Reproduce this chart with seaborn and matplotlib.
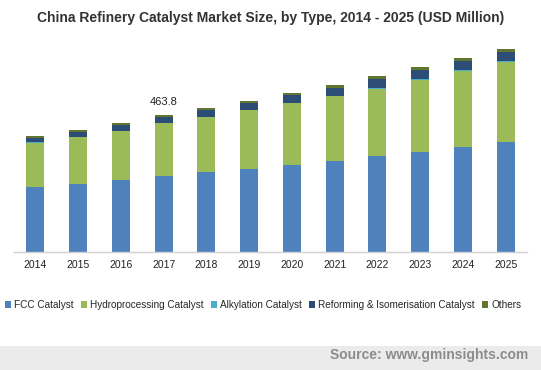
import numpy as np
import pandas as pd
import matplotlib.pyplot as plt
import seaborn as sns
from matplotlib.patches import Patch, Rectangle

# Data (USD Million)
years = ["2014", "2015", "2016", "2017", "2018", "2019",
         "2020", "2021", "2022", "2023", "2024", "2025"]
fcc = [220, 231, 243, 256.7, 270, 281, 294, 309, 325, 339, 355, 373]
hydro = [151, 159, 167, 180.8, 188, 201, 211, 219, 229, 244, 258, 270]
alkylation = [0.6, 0.6, 0.6, 0.6, 0.8, 0.8, 1, 2, 2.5, 3, 3, 4]
reforming = [16, 18, 19, 19.2, 22, 22, 25, 26, 29.5, 31.5, 32, 31]
others = [6, 6.5, 6.5, 6.5, 6.8, 7, 7.8, 9, 10, 9, 9, 10]

segments = ["FCC Catalyst", "Hydroprocessing Catalyst", "Alkylation Catalyst",
            "Reforming & Isomerisation Catalyst", "Others"]
colors = ["#4F81BD", "#9BBB59", "#4BACC6", "#2C4D75", "#5F7530"]

df = pd.DataFrame({"Year": years, segments[0]: fcc, segments[1]: hydro,
                   segments[2]: alkylation, segments[3]: reforming,
                   segments[4]: others})

sns.set_style("white")
plt.rcParams["font.family"] = ["Liberation Sans", "DejaVu Sans"]

fig = plt.figure(figsize=(5.41, 3.70), dpi=100)
ax = fig.add_axes([14 / 541, 1 - 252 / 370, 513 / 541, 212 / 370])

bottom = np.zeros(len(years))
for seg, col in zip(segments, colors):
    sns.barplot(x="Year", y=seg, data=df, color=col, width=0.42,
                bottom=bottom, ax=ax, saturation=1, linewidth=0)
    bottom = bottom + df[seg].values

ax.set_ylim(0, 719)
ax.set_xlim(-0.5, 11.5)
ax.set_xlabel("")
ax.set_ylabel("")
ax.set_yticks([])
ax.tick_params(axis="x", length=0, labelsize=7.5, pad=6, colors="#222222")
for s in ["top", "right", "left"]:
    ax.spines[s].set_visible(False)
ax.spines["bottom"].set_color("#D0D0D0")
ax.spines["bottom"].set_linewidth(1)

# value label over 2017
i17 = years.index("2017")
ax.text(i17, bottom[i17] + 45, f"{bottom[i17]:.1f}", ha="center", va="center",
        fontsize=8, color="#222222")

fig.text(0.5, 1 - 18 / 370,
         "China Refinery Catalyst Market Size, by Type, 2014 - 2025 (USD Million)",
         ha="center", va="center", fontsize=10, fontweight="bold", color="#333333")

handles = [Patch(facecolor=c, edgecolor="none") for c in colors]
fig.legend(handles, segments, loc="center", bbox_to_anchor=(263 / 541, 1 - 305 / 370),
           ncol=5, frameon=False, fontsize=7.2, handlelength=0.6, handleheight=0.6,
           handletextpad=0.3, columnspacing=0.75, borderaxespad=0)

fig.patches.append(Rectangle((0, 0), 1, 24 / 370, transform=fig.transFigure,
                             facecolor="#EBEBEB", edgecolor="none", zorder=0))
fig.text(528 / 541, 1 - 355 / 370, "Source: www.gminsights.com", ha="right",
         va="center", fontsize=10, fontweight="bold", color="#8C8C8C")

fig.savefig("out.png", dpi=100, facecolor="white")
